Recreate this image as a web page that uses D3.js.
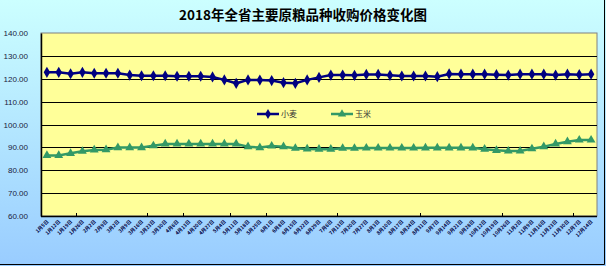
<!DOCTYPE html>
<html>
<head>
<meta charset="utf-8">
<script src="https://cdn.jsdelivr.net/npm/d3@7"></script>
<style>
  body { margin: 0; }
  svg { display: block; font-family: "Liberation Sans", "Noto Sans CJK SC", sans-serif; }
</style>
</head>
<body>
<svg id="chart"></svg>
<script>
const width = 606;
const height = 266;

const title = "2018年全省主要原粮品种收购价格变化图";

// category labels (collection dates)
const dates = [
  "1月5日", "1月12日", "1月19日", "1月26日", "2月2日", "2月9日", "3月2日", "3月9日",
  "3月16日", "3月23日", "3月30日", "4月6日", "4月13日", "4月20日", "4月27日", "5月4日",
  "5月11日", "5月18日", "5月25日", "6月1日", "6月8日", "6月15日", "6月22日", "6月29日",
  "7月6日", "7月13日", "7月20日", "7月27日", "8月3日", "8月10日", "8月17日", "8月24日",
  "8月31日", "9月7日", "9月14日", "9月21日", "9月28日", "10月12日", "10月19日", "10月26日",
  "11月2日", "11月9日", "11月16日", "11月23日", "11月30日", "12月7日", "12月14日"
];

// 小麦
const wheat = [
  122.8, 122.8, 122.2, 122.8, 122.4, 122.4, 122.4, 121.6, 121.3, 121.3,
  121.3, 121.1, 121.1, 121.1, 120.8, 119.5, 118.0, 119.5, 119.4, 119.2,
  118.3, 118.0, 119.5, 120.6, 121.6, 121.6, 121.5, 121.9, 121.9, 121.5,
  121.2, 121.2, 121.2, 120.9, 122.1, 122.0, 122.0, 122.0, 121.8, 121.6,
  122.0, 122.0, 122.0, 121.6, 122.0, 121.8, 122.0
];

// 玉米
const corn = [
  86.5, 86.5, 87.4, 88.3, 88.9, 89.0, 89.9, 89.9, 89.9, 90.7,
  91.5, 91.5, 91.5, 91.5, 91.5, 91.5, 91.5, 90.3, 89.9, 90.6,
  90.3, 89.6, 89.3, 89.2, 89.2, 89.6, 89.6, 89.7, 89.7, 89.7,
  89.7, 89.7, 89.8, 89.8, 89.8, 89.8, 89.8, 89.2, 88.7, 88.4,
  88.4, 89.4, 90.3, 91.5, 92.5, 93.2, 93.2
];

const yTicks = [60, 70, 80, 90, 100, 110, 120, 130, 140];
// category boundaries where the x axis shows a tick mark
const xTickBounds = [3, 9, 12, 16, 19, 25, 32, 39, 45];

const seriesList = [
  { name: "小麦", values: wheat, color: "#000080", symbol: d3.symbolDiamond },
  { name: "玉米", values: corn, color: "#339966", symbol: d3.symbolTriangle }
];

const plot = { left: 41, right: 597, top: 33, bottom: 216 };

const svg = d3.select("#chart")
  .attr("width", width)
  .attr("height", height);

const defs = svg.append("defs");
const bg = defs.append("linearGradient")
  .attr("id", "bg")
  .attr("x1", "0%").attr("y1", "0%")
  .attr("x2", "0%").attr("y2", "100%");
bg.append("stop").attr("offset", "0%").attr("stop-color", "#CCFFFF");
bg.append("stop").attr("offset", "100%").attr("stop-color", "#99CCFF");

svg.append("rect")
  .attr("width", width)
  .attr("height", height)
  .attr("fill", "url(#bg)");

// frame edges (right / bottom)
svg.append("path")
  .attr("d", `M${width - 1.5},0V${height - 1.5}H0`)
  .attr("fill", "none")
  .attr("stroke", "#000")
  .attr("stroke-width", 1);

svg.append("text")
  .attr("x", width / 2)
  .attr("y", 20)
  .attr("text-anchor", "middle")
  .attr("font-family", "'Noto Sans CJK SC', sans-serif")
  .attr("font-size", "13.5px")
  .attr("font-weight", "bold")
  .attr("fill", "#000")
  .text(title);

const x = d3.scaleBand()
  .domain(d3.range(dates.length))
  .range([plot.left, plot.right]);

const y = d3.scaleLinear()
  .domain([60, 140])
  .range([plot.bottom, plot.top]);

const cx = i => x(i) + x.bandwidth() / 2;

// plot area
svg.append("rect")
  .attr("x", plot.left)
  .attr("y", plot.top)
  .attr("width", plot.right - plot.left)
  .attr("height", plot.bottom - plot.top)
  .attr("fill", "#FFFF99")
  .attr("stroke", "#808080")
  .attr("stroke-width", 1);

// gridlines
svg.append("g")
  .selectAll("line")
  .data(yTicks.slice(1, -1))
  .join("line")
  .attr("x1", plot.left)
  .attr("x2", plot.right)
  .attr("y1", d => Math.round(y(d)) + 0.5)
  .attr("y2", d => Math.round(y(d)) + 0.5)
  .attr("stroke", "#000")
  .attr("stroke-width", 1);

// y axis
const yAxis = svg.append("g")
  .attr("transform", `translate(${plot.left},0)`)
  .call(d3.axisLeft(y).tickValues(yTicks).tickFormat(d3.format(".2f")).tickSize(0).tickPadding(13));
yAxis.select(".domain").attr("stroke", "#000").attr("stroke-width", 1.5);
yAxis.selectAll("text")
  .attr("font-size", "8px")
  .attr("fill", "#1a1a40");

// x axis
svg.append("line")
  .attr("x1", plot.left)
  .attr("x2", plot.right)
  .attr("y1", plot.bottom + 0.5)
  .attr("y2", plot.bottom + 0.5)
  .attr("stroke", "#000")
  .attr("stroke-width", 1.5);

svg.append("g")
  .selectAll("line")
  .data(xTickBounds)
  .join("line")
  .attr("x1", d => Math.round(x(d)) + 0.5)
  .attr("x2", d => Math.round(x(d)) + 0.5)
  .attr("y1", plot.bottom)
  .attr("y2", plot.bottom - 3)
  .attr("stroke", "#000");

svg.append("g")
  .selectAll("text")
  .data(dates)
  .join("text")
  .attr("transform", (d, i) => `translate(${cx(i) + 2},${plot.bottom + 6}) rotate(-45)`)
  .attr("text-anchor", "end")
  .attr("font-family", "'Noto Sans CJK SC', sans-serif")
  .attr("font-size", "5px")
  .attr("font-weight", "bold")
  .attr("fill", "#000040")
  .text(d => d);

// series
const line = d3.line()
  .x((d, i) => cx(i))
  .y(d => y(d));

seriesList.forEach(s => {
  svg.append("path")
    .datum(s.values)
    .attr("d", line)
    .attr("fill", "none")
    .attr("stroke", s.color)
    .attr("stroke-width", 2.5);

  svg.append("g")
    .selectAll("path")
    .data(s.values)
    .join("path")
    .attr("transform", (d, i) => `translate(${cx(i)},${y(d)})`)
    .attr("d", d3.symbol().type(s.symbol).size(s.symbol === d3.symbolDiamond ? 36 : 34))
    .attr("fill", s.color);
});

// legend
const legend = svg.append("g")
  .attr("transform", "translate(257,114)");

const legendItems = legend.selectAll("g")
  .data(seriesList)
  .join("g")
  .attr("transform", (d, i) => `translate(${i * 74},0)`);

legendItems.append("line")
  .attr("x1", 0)
  .attr("x2", 22)
  .attr("stroke", d => d.color)
  .attr("stroke-width", 2.5);

legendItems.append("path")
  .attr("transform", "translate(11,0)")
  .attr("d", d => d3.symbol().type(d.symbol).size(30)())
  .attr("fill", d => d.color);

legendItems.append("text")
  .attr("x", 24)
  .attr("y", 3)
  .attr("font-family", "'Noto Sans CJK SC', sans-serif")
  .attr("font-size", "8px")
  .attr("fill", "#333")
  .text(d => d.name);
</script>
</body>
</html>
